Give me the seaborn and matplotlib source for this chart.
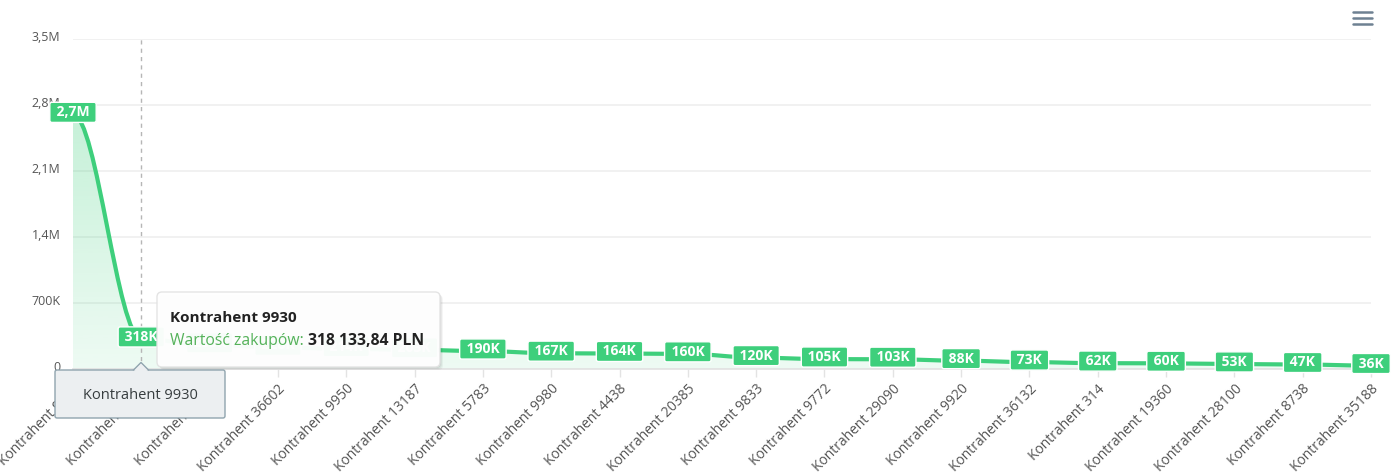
import matplotlib
matplotlib.use("Agg")
import matplotlib.pyplot as plt
import matplotlib.transforms as mtransforms
from matplotlib.colors import to_rgb
from matplotlib.path import Path
from matplotlib.patches import PathPatch, FancyBboxPatch, Polygon
from matplotlib.lines import Line2D
import numpy as np
import seaborn as sns

W, H = 1397, 473

# data (hidden points behind the tooltip are estimates)
contractors = ["Kontrahent 9018", "Kontrahent 9930", "Kontrahent 9845", "Kontrahent 36602",
               "Kontrahent 9950", "Kontrahent 13187", "Kontrahent 5783", "Kontrahent 9980",
               "Kontrahent 4438", "Kontrahent 20385", "Kontrahent 9833", "Kontrahent 9772",
               "Kontrahent 29090", "Kontrahent 9920", "Kontrahent 36132", "Kontrahent 314",
               "Kontrahent 19360", "Kontrahent 28100", "Kontrahent 8738", "Kontrahent 35188"]
purchases = [2700000, 318133.84, 255000, 228000, 214000, 203000, 190000, 167000, 164000,
             160000, 120000, 105000, 103000, 88000, 73000, 62000, 60000, 53000, 47000, 36000]
y_ticks = [0, 700000, 1400000, 2100000, 2800000, 3500000]
y_tick_labels = ["0", "700K", "1,4M", "2,1M", "2,8M", "3,5M"]

hovered = 1
tooltip_series = "Wartość zakupów: "
tooltip_value = "318 133,84 PLN"

GREEN = "#3ecf7c"
TXT = "#555555"


def short_label(v):
    if v >= 1e6:
        return f"{v / 1e6:.1f}M".replace(".", ",")
    return f"{v / 1e3:.0f}K"


def smooth_path(xs, ys):
    # apex-style smooth curve: flat control handles at 35% of the step
    verts = [(xs[0], ys[0])]
    codes = [Path.MOVETO]
    for i in range(1, len(xs)):
        d = (xs[i] - xs[i - 1]) * 0.35
        verts += [(xs[i - 1] + d, ys[i - 1]), (xs[i] - d, ys[i]), (xs[i], ys[i])]
        codes += [Path.CURVE4] * 3
    return verts, codes


def pbox(x0, y0, x1, y1, **kw):
    # box in output pixels, y measured from the top
    return FancyBboxPatch((x0, H - y1), x1 - x0, y1 - y0, transform=mtransforms.IdentityTransform(), **kw)


sns.set_theme(style="white")
plt.rcParams["font.family"] = ["Open Sans", "DejaVu Sans"]

fig = plt.figure(figsize=(W / 100, H / 100), dpi=100)
ax = fig.add_axes([73 / W, 1 - 369 / H, (1371 - 73) / W, (369 - 39) / H])

x = np.arange(len(contractors))
verts, codes = smooth_path(x, purchases)

# gradient area under the curve
area = Path(verts + [(x[-1], 0), (x[0], 0), (x[0], purchases[0])],
            codes + [Path.LINETO, Path.LINETO, Path.CLOSEPOLY])
grad = np.zeros((256, 1, 4))
grad[..., :3] = to_rgb(GREEN)
grad[:, 0, 3] = np.linspace(0.36, 0.09, 256)
im = ax.imshow(grad, extent=[x[0], x[-1], 0, y_ticks[-1]], aspect="auto", origin="upper", zorder=1)
clip = PathPatch(area, fc="none", ec="none")
ax.add_patch(clip)
im.set_clip_path(clip)

ax.add_patch(PathPatch(Path(verts, codes), fc="none", ec=GREEN, lw=3, capstyle="round", zorder=3))

ax.set_xlim(x[0], x[-1])
ax.set_ylim(0, y_ticks[-1])
ax.set_yticks(y_ticks)
ax.set_yticklabels(y_tick_labels)
ax.set_xticks(x)
ax.set_xticklabels(contractors, rotation=45, ha="right", va="top", rotation_mode="anchor")
ax.yaxis.grid(True, color="#efefef", lw=1.2)
ax.xaxis.grid(False)
sns.despine(ax=ax, left=True, top=True, right=True)
ax.spines["bottom"].set_color("#e3e3e3")
ax.tick_params(axis="x", bottom=True, length=6, width=1, color="#e3e3e3", pad=3, labelsize=10, labelcolor=TXT)
ax.tick_params(axis="y", left=False, length=0, pad=9, labelsize=9, labelcolor=TXT)
offset = mtransforms.ScaledTranslation(0, 3 / 100, fig.dpi_scale_trans)
for lab in ax.get_yticklabels():
    lab.set_transform(lab.get_transform() + offset)

# hover crosshair
ax.axvline(hovered, color="#b6b6b6", lw=1, ls=(0, (3, 3)), zorder=2)

# data labels
for xi, v in zip(x, purchases):
    ax.annotate(f" {short_label(v)} ", (xi, v), xytext=(0, 1.5), textcoords="offset points",
                ha="center", va="center", fontsize=10, fontweight="bold", color="white",
                bbox=dict(boxstyle="round,pad=0.22,rounding_size=0.15", fc=GREEN, ec="white", lw=1),
                zorder=5, annotation_clip=False)

# tooltip
for k, a in [(3, 0.04), (2, 0.05), (1, 0.06)]:
    fig.patches.append(pbox(157 + k, 292 + k, 440 + k, 367 + k, boxstyle="round,pad=0,rounding_size=5",
                            fc="black", ec="none", alpha=a))
fig.patches.append(pbox(157, 292, 440, 367, boxstyle="round,pad=0,rounding_size=5",
                        fc="white", ec="#e3e3e3", lw=1, alpha=0.97))
fig.text(170 / W, 1 - 318 / H, contractors[hovered], fontsize=11, fontweight="bold",
         color="#222222", va="center", ha="left")
t1 = fig.text(170 / W, 1 - 341 / H, tooltip_series, fontsize=11.3, color="#55b25a", va="center", ha="left")
fig.canvas.draw()
bb = t1.get_window_extent(renderer=fig.canvas.get_renderer())
fig.text(bb.x1 / W, 1 - 341 / H, tooltip_value, fontsize=11.3, fontweight="bold",
         color="#222222", va="center", ha="left")

# x-axis hover label
fig.patches.append(pbox(55, 370, 225, 418, boxstyle="round,pad=0,rounding_size=2",
                        fc="#eceff1", ec="#90a4ae", lw=1))
fig.patches.append(Polygon([(133, H - 370.5), (141, H - 362.5), (149, H - 370.5)], closed=False,
                           transform=mtransforms.IdentityTransform(), fc="#eceff1", ec="#90a4ae", lw=1))
fig.patches.append(Polygon([(134, H - 371.5), (141, H - 364), (148, H - 371.5)],
                           transform=mtransforms.IdentityTransform(), fc="#eceff1", ec="none"))
fig.text(140 / W, 1 - 395 / H, contractors[hovered], fontsize=10.5, color="#373d3f", va="center", ha="center")

# toolbar menu icon
for yy in (12, 18, 24):
    fig.lines.append(Line2D([1353, 1372], [H - yy, H - yy], transform=mtransforms.IdentityTransform(),
                            color="#6e8192", lw=1.8))

fig.savefig("out.png", dpi=100)
